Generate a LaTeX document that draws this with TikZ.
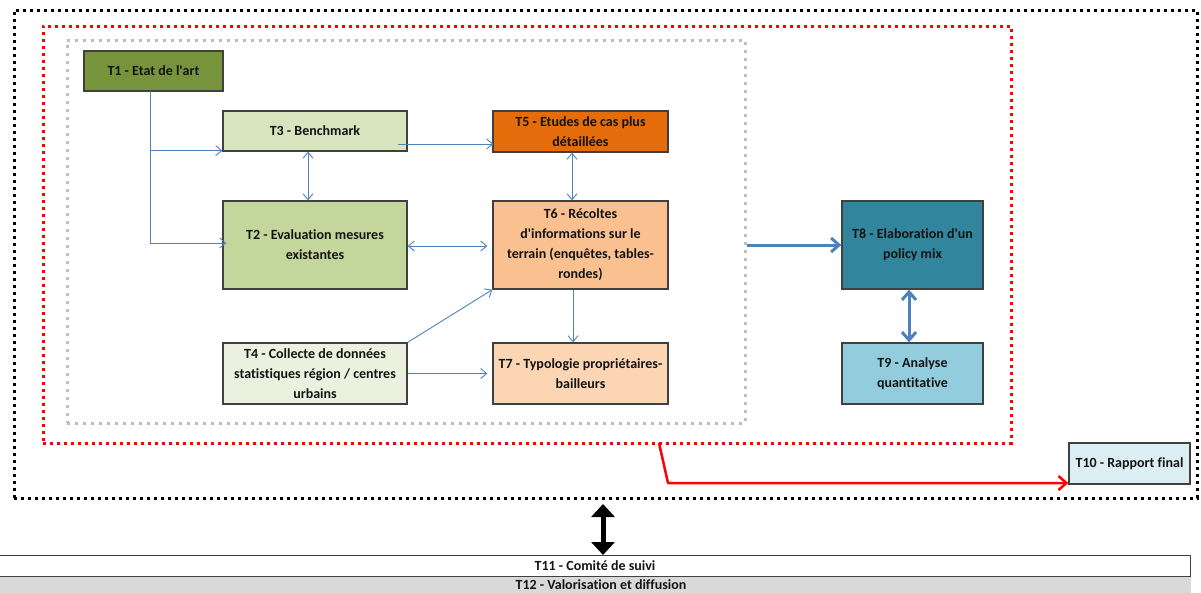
\documentclass[tikz,border=0pt]{standalone}
\usepackage{fontspec}
\setmainfont{Carlito}[Ligatures={NoCommon}]
\usetikzlibrary{arrows.meta}
\definecolor{bord}{HTML}{404040}
\definecolor{lblue}{HTML}{4F81BD}
\definecolor{cT1}{HTML}{77933C}
\definecolor{cT2}{HTML}{C3D69B}
\definecolor{cT3}{HTML}{D7E4BD}
\definecolor{cT4}{HTML}{EBF1DE}
\definecolor{cT5}{HTML}{E46C0A}
\definecolor{cT6}{HTML}{FAC090}
\definecolor{cT7}{HTML}{FCD5B5}
\definecolor{cT8}{HTML}{31859C}
\definecolor{cT9}{HTML}{93CDDD}
\definecolor{cT10}{HTML}{DBEEF4}
\definecolor{cT12}{HTML}{D9D9D9}
\definecolor{gdot}{HTML}{BFBFBF}
\definecolor{txt}{HTML}{141414}
\tikzset{
  task/.style={draw=bord, line width=1.3pt, rectangle, inner sep=0pt, align=center,
    text=txt, font=\fontsize{14}{20}\selectfont\bfseries},
  frame/.style={rectangle, inner sep=0pt, line width=3pt},
  thinarr/.style={draw=lblue, line width=0.9pt, {Straight Barb[length=6pt,width=10pt]}-{Straight Barb[length=6pt,width=10pt]}},
  onearr/.style={draw=lblue, line width=0.9pt, -{Straight Barb[length=6pt,width=10pt]}},
  thickarr/.style={draw=lblue, line width=3pt},
}
\begin{document}
\begin{tikzpicture}[x=1pt,y=-1pt]
\useasboundingbox (0,0) rectangle (1201,592);
% frames
\node[frame, draw=black, dash pattern=on 3pt off 4pt, minimum width=1183pt, minimum height=488pt] (B) at (605.5,254) {};
\node[frame, draw=red, dash pattern=on 3pt off 4pt, minimum width=968pt, minimum height=417pt] (R) at (527,234.5) {};
\node[frame, draw=gdot, dash pattern=on 3pt off 5pt, minimum width=678pt, minimum height=383pt] (G) at (406,231.5) {};
% tasks
\node[task, fill=cT1, minimum width=139pt, minimum height=40pt] (T1) at (153.5,71) {T1 - Etat de l\textquotesingle art};
\node[task, fill=cT3, minimum width=184pt, minimum height=40pt] (T3) at (315,131) {T3 - Benchmark};
\node[task, fill=cT2, minimum width=184pt, minimum height=88pt] (T2) at (315,245) {T2 - Evaluation mesures\\existantes};
\node[task, fill=cT5, minimum width=175pt, minimum height=41pt] (T5) at (580.5,131.5) {T5 - Etudes de cas plus\\détaillées};
\node[task, fill=cT6, minimum width=175pt, minimum height=88pt] (T6) at (580.5,245) {T6 - Récoltes\\d\textquotesingle informations sur le\\terrain (enquêtes, tables-\\rondes)};
\node[task, fill=cT4, minimum width=184pt, minimum height=61pt] (T4) at (315,373.5) {T4 - Collecte de données\\statistiques région / centres\\urbains};
\node[task, fill=cT7, minimum width=175pt, minimum height=61pt] (T7) at (580.5,373.5) {T7 - Typologie propriétaires-\\bailleurs};
\node[task, fill=cT8, minimum width=141pt, minimum height=88pt] (T8) at (912.5,245) {T8 - Elaboration d\textquotesingle un\\policy mix};
\node[task, fill=cT9, minimum width=141pt, minimum height=61pt] (T9) at (912.5,373.5) {T9 - Analyse\\quantitative};
\node[task, fill=cT10, minimum width=121pt, minimum height=41pt] (T10) at (1129.5,463.5) {T10 - Rapport final};
\node[task, fill=cT12, draw=none, minimum width=1195pt, minimum height=20pt, anchor=north west] (T12) at (-5,576) {};
\node[task, fill=white, minimum width=1195pt, minimum height=21pt, anchor=north west] (T11) at (-5,555) {};
\node[task, draw=none, anchor=center] (T11t) at (595,565.5) {T11 - Comité de suivi};
\node[task, draw=none, anchor=center] (T12t) at (601,585) {T12 - Valorisation et diffusion};
% thin connectors
\coordinate (t1s) at (150,91);
\draw[onearr] (t1s) |- ([yshift=1pt]T3.south west);
\draw[onearr] (t1s) |- ([xshift=4pt,yshift=2pt]T2.west);
\draw[thinarr] ([xshift=-7pt]T3.south) -- ([xshift=-7pt]T2.north);
\draw[onearr] ([xshift=-10pt,yshift=-13pt]T3.east) -- ([xshift=1pt,yshift=-12.5pt]T5.west);
\draw[thinarr] ([xshift=-8.5pt]T5.south) -- ([xshift=-8.5pt]T6.north);
\draw[thinarr] ([yshift=-1pt]T2.east) -- ([xshift=-5pt,yshift=-1pt]T6.west);
\draw[onearr] (T4.north east) -- (T6.south west);
\draw[onearr] (T4.east) -- ([xshift=-5pt]T7.west);
\draw[onearr] ([xshift=-7.5pt]T6.south) -- ([xshift=-7.5pt]T7.north);
% thick connectors
\draw[thickarr, -{Straight Barb[length=8pt,width=14pt]}] (G.east |- T8.west) -- (T8.west);
\draw[thickarr, {Straight Barb[length=8pt,width=14pt]}-{Straight Barb[length=8pt,width=14pt]}] ([xshift=-3.5pt]T8.south) -- ([xshift=-3.5pt]T9.north);
% red connector
\coordinate (rs) at (659,443);
\coordinate (rb) at (668,483);
\draw[red, line width=2.5pt, line join=round, -{Straight Barb[length=8pt,width=14pt]}] (rs) -- (rb) -- (rb -| T10.west);
% black double arrow
\coordinate (ba) at (603,504);
\draw[black, line width=5pt, {Triangle[length=13pt,width=23pt]}-{Triangle[length=13pt,width=23pt]}] (ba) -- (ba |- T11.north);
\end{tikzpicture}
\end{document}
